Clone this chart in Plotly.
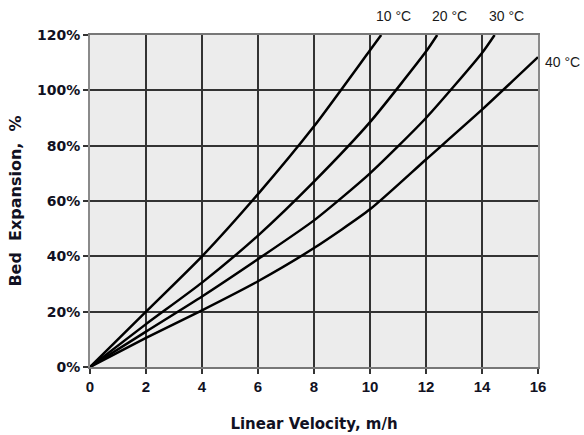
import plotly.graph_objects as go

# Linear velocity (m/h) and bed expansion (%) per temperature
series_names = ["10 °C", "20 °C", "30 °C", "40 °C"]
x_10 = [0, 2, 4, 6, 8, 10, 10.4]
y_10 = [0, 20, 40, 62.5, 87, 114.5, 120]
x_20 = [0, 2, 4, 6, 8, 10, 12, 12.4]
y_20 = [0, 15.5, 30.5, 47.5, 67, 88.5, 114, 120]
x_30 = [0, 2, 4, 6, 8, 10, 12, 14, 14.45]
y_30 = [0, 12.8, 25.5, 39, 53, 70, 90, 113.5, 120]
x_40 = [0, 2, 4, 6, 8, 10, 12, 14, 16]
y_40 = [0, 10.5, 20.5, 31, 43, 57, 75, 93, 112]

x_ticks = [0, 2, 4, 6, 8, 10, 12, 14, 16]
y_ticks = [0, 20, 40, 60, 80, 100, 120]

xs = [x_10, x_20, x_30, x_40]
ys = [y_10, y_20, y_30, y_40]

fig = go.Figure()
for name, xv, yv in zip(series_names, xs, ys):
    fig.add_trace(go.Scatter(
        x=xv, y=yv, mode="lines", name=name,
        line=dict(color="#000000", width=2.5, shape="spline", smoothing=0.6),
        showlegend=False, hoverinfo="skip", cliponaxis=False,
    ))

label_font = dict(family="Liberation Sans, Arial, sans-serif", size=14, color="#1a1a1a")
for i, (name, xv, yv) in enumerate(zip(series_names, xs, ys)):
    if i < 3:
        fig.add_annotation(x=xv[-1], y=yv[-1], text=name, showarrow=False,
                           xanchor="center", yanchor="middle",
                           xshift=12, yshift=19, font=label_font)
    else:
        fig.add_annotation(x=xv[-1], y=yv[-1], text=name, showarrow=False,
                           xanchor="left", yanchor="middle",
                           xshift=5, yshift=-5, font=label_font)

xtick_font = dict(family="Liberation Sans, Arial, sans-serif", size=15, color="#111122")
ytick_font = dict(family="DejaVu Sans, sans-serif", size=14, color="#111122")
title_font = dict(family="DejaVu Sans, sans-serif", size=15, color="#111122")
ytitle_font = dict(family="DejaVu Sans, sans-serif", size=16, color="#111122")

fig.update_layout(
    width=584, height=435,
    margin=dict(l=90, r=46, t=35, b=68),
    paper_bgcolor="white",
    plot_bgcolor="#ececec",
    xaxis=dict(
        range=[0, 16], tickvals=x_ticks, ticktext=[f"<b>{v}</b>" for v in x_ticks],
        showgrid=True, gridcolor="#333333", gridwidth=2,
        zeroline=False, automargin=False,
        showline=True, linecolor="#777777", linewidth=2, mirror=True,
        ticks="outside", ticklen=5, tickwidth=2, tickcolor="#333333",
        tickfont=xtick_font,
        title=dict(text="<b>Linear Velocity, m/h</b>", font=title_font, standoff=24),
    ),
    yaxis=dict(
        range=[0, 120], tickvals=y_ticks, ticktext=[f"<b>{v}%</b>" for v in y_ticks],
        showgrid=True, gridcolor="#333333", gridwidth=2,
        zeroline=False, automargin=False,
        showline=True, linecolor="#8a8a8a", linewidth=2, mirror=True,
        ticks="outside", ticklen=5, tickwidth=2, tickcolor="#333333",
        tickfont=ytick_font,
        title=dict(text="<b>Bed  Expansion,  %</b>", font=ytitle_font, standoff=11),
    ),
)

fig.write_html("out.html", config={"displayModeBar": False},
               post_script="document.body.style.margin='0';")
